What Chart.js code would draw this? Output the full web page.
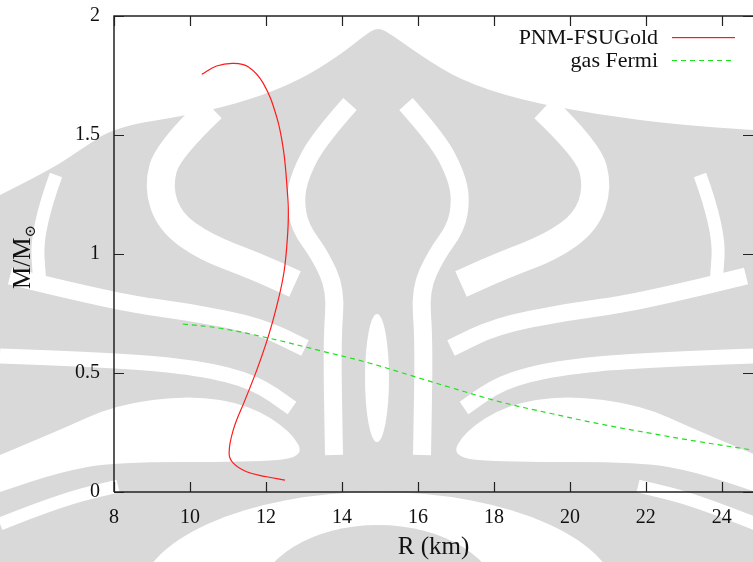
<!DOCTYPE html>
<html>
<head>
<meta charset="utf-8">
<script src="https://cdn.jsdelivr.net/npm/chart.js@4"></script>
<style>
  html, body { margin: 0; padding: 0; background: #fff; }
  #wrap { width: 753px; height: 562px; }
</style>
</head>
<body>
<div id="wrap"><canvas id="mrChart" width="753" height="562"></canvas></div>
<script>
"use strict"

// mass-radius curves (R in km, M in solar masses)
const fsuRadius = [10.31, 10.70, 11.14, 11.53, 11.93, 12.28, 12.46, 12.56, 12.59, 12.56, 12.47, 12.28, 12.06, 11.76, 11.45, 11.14, 11.03, 11.14, 11.49, 12.02, 12.50];
const fsuMass   = [1.755, 1.790, 1.801, 1.787, 1.717, 1.577, 1.437, 1.269, 1.171, 1.059, 0.919, 0.779, 0.653, 0.513, 0.387, 0.261, 0.163, 0.121, 0.085, 0.064, 0.050];

const fermiRadius = [9.81, 10.79, 12.09, 13.42, 14.74, 16.05, 16.84, 18.16, 19.47, 20.79, 22.11, 23.42, 24.82];
const fermiMass   = [0.706, 0.688, 0.646, 0.594, 0.541, 0.478, 0.440, 0.379, 0.331, 0.286, 0.247, 0.211, 0.176];

const seriesNames = ['PNM-FSUGold', 'gas Fermi'];
const seriesColors = ['#ff1a1a', '#1ee01e'];
const xTicks = [8, 10, 12, 14, 16, 18, 20, 22, 24];
const yTicks = [0, 0.5, 1, 1.5, 2];

const SERIF = '"Liberation Serif", "DejaVu Serif", serif';
const WM_GRAY = '#d9d9d9';

function toPoints(xs, ys) {
  return xs.map((x, i) => ({ x: x, y: ys[i] }));
}

// --- faint page watermark behind the plot (rough outline, mirrored about x=378)
const wmTop = [[0,195],[50,170],[80,150],[115,127],[190,115],[250,100],[300,80],[340,55],[365,35],[378,27],
               [392,35],[420,55],[460,80],[520,100],[600,115],[680,125],[753,130]];
const wmBands = [
  { w: 28, pts: [[212,108],[168,150],[158,187],[170,222],[205,247],[255,266],[295,284]] },
  { w: 18, pts: [[350,104],[318,140],[300,175],[295,200],[300,228],[320,255],[336,290],[332,340],[334,455]] },
  { w: 13, pts: [[56,175],[36,230],[40,285]] },
  { w: 17, pts: [[10,276],[115,302],[190,312],[260,326],[305,348]] },
  { w: 15, pts: [[0,356],[115,360],[200,368],[255,382],[292,408]] },
  { w: 13, pts: [[0,524],[60,500],[118,486]] }
];
const wmAreas = [
  [[0,455],[60,430],[115,405],[190,395],[250,405],[292,432],[305,458],[250,462],[115,462],[60,472],[0,492]]
];

function smoothPath(ctx, pts, closed) {
  ctx.moveTo(pts[0][0], pts[0][1]);
  for (let i = 1; i < pts.length - 1; i++) {
    const mx = (pts[i][0] + pts[i + 1][0]) / 2, my = (pts[i][1] + pts[i + 1][1]) / 2;
    ctx.quadraticCurveTo(pts[i][0], pts[i][1], mx, my);
  }
  const last = pts[pts.length - 1];
  ctx.lineTo(last[0], last[1]);
  if (closed) ctx.closePath();
}

const watermark = {
  id: 'watermark',
  beforeDraw(chart) {
    const ctx = chart.ctx;
    ctx.save();
    ctx.fillStyle = '#fff';
    ctx.fillRect(0, 0, chart.width, chart.height);
    ctx.fillStyle = WM_GRAY;
    ctx.beginPath();
    smoothPath(ctx, wmTop, false);
    ctx.lineTo(chart.width, chart.height);
    ctx.lineTo(0, chart.height);
    ctx.closePath();
    ctx.fill();
    [false, true].forEach(flip => {
      ctx.save();
      if (flip) { ctx.translate(756, 0); ctx.scale(-1, 1); }
      ctx.strokeStyle = '#fff';
      ctx.fillStyle = '#fff';
      ctx.lineCap = 'butt';
      ctx.lineJoin = 'round';
      wmBands.forEach(b => {
        ctx.lineWidth = b.w;
        ctx.beginPath();
        smoothPath(ctx, b.pts, false);
        ctx.stroke();
      });
      wmAreas.forEach(a => {
        ctx.beginPath();
        smoothPath(ctx, a, true);
        ctx.fill();
      });
      ctx.restore();
    });
    // central slot and bottom arch
    ctx.fillStyle = '#fff';
    ctx.beginPath();
    ctx.ellipse(377, 378, 12, 64, 0, 0, Math.PI * 2);
    ctx.fill();
    ctx.beginPath();
    ctx.ellipse(378, 600, 240, 108, 0, 0, Math.PI * 2);
    ctx.fill();
    ctx.fillStyle = WM_GRAY;
    ctx.beginPath();
    ctx.ellipse(378, 600, 120, 75, 0, 0, Math.PI * 2);
    ctx.fill();
    ctx.restore();
  }
};

// gnuplot style frame: inward ticks, mirrored on top and right
const frameTicks = {
  id: 'frameTicks',
  afterDraw(chart) {
    const ctx = chart.ctx;
    const a = chart.chartArea;
    const xs = chart.scales.x, ys = chart.scales.y;
    const len = 10;
    ctx.save();
    ctx.strokeStyle = '#222';
    ctx.lineWidth = 1.5;
    ctx.beginPath();
    ctx.moveTo(a.left, a.bottom);
    ctx.lineTo(a.left, a.top);
    ctx.lineTo(chart.width + 2, a.top);
    ctx.moveTo(a.left, a.bottom);
    ctx.lineTo(chart.width + 2, a.bottom);
    ctx.stroke();
    ctx.lineWidth = 1.2;
    ctx.beginPath();
    xTicks.forEach(v => {
      const px = Math.round(xs.getPixelForValue(v)) + 0.5;
      ctx.moveTo(px, a.bottom);
      ctx.lineTo(px, a.bottom - len);
      ctx.moveTo(px, a.top);
      ctx.lineTo(px, a.top + len);
    });
    yTicks.forEach(v => {
      const py = Math.round(ys.getPixelForValue(v)) + 0.5;
      ctx.moveTo(a.left, py);
      ctx.lineTo(a.left + len, py);
      ctx.moveTo(a.right, py);
      ctx.lineTo(a.right - len, py);
    });
    ctx.stroke();
    ctx.restore();
  }
};

// legend with the text right-aligned and the line sample after it
const sideLegend = {
  id: 'sideLegend',
  afterDraw(chart) {
    const ctx = chart.ctx;
    ctx.save();
    ctx.font = '22px ' + SERIF;
    ctx.textAlign = 'right';
    ctx.textBaseline = 'middle';
    seriesNames.forEach((name, i) => {
      const y = 37 + i * 23;
      ctx.fillStyle = '#111';
      ctx.fillText(name, 658, y + 1);
      if (i === 0) {
        ctx.fillStyle = seriesColors[i];
        ctx.fillRect(672, y, 63, 1.2);
      } else {
        ctx.strokeStyle = seriesColors[i];
        ctx.lineWidth = 1.2;
        ctx.setLineDash([5, 4]);
        ctx.beginPath();
        ctx.moveTo(672, y + 0.5);
        ctx.lineTo(735, y + 0.5);
        ctx.stroke();
      }
    });
    ctx.restore();
  }
};

// y title M/M_sun with a real subscript
const yTitle = {
  id: 'yTitle',
  afterDraw(chart) {
    const ctx = chart.ctx;
    ctx.save();
    ctx.translate(30, 257);
    ctx.rotate(-Math.PI / 2);
    ctx.fillStyle = '#111';
    ctx.textBaseline = 'alphabetic';
    ctx.textAlign = 'left';
    ctx.font = '25px ' + SERIF;
    const main = 'M/M';
    const wMain = ctx.measureText(main).width;
    ctx.font = '15px ' + SERIF;
    const sub = '\u2299';
    const wSub = ctx.measureText(sub).width;
    const start = -(wMain + wSub) / 2;
    ctx.font = '25px ' + SERIF;
    ctx.fillText(main, start, 0);
    ctx.font = '15px ' + SERIF;
    ctx.fillText(sub, start + wMain, 5);
    ctx.restore();
  }
};

function drawMassRadius() {
  const options = {
    type: 'scatter',
    data: {
      datasets: [
        {
          label: seriesNames[0],
          data: toPoints(fsuRadius, fsuMass),
          showLine: true,
          borderColor: seriesColors[0],
          borderWidth: 1.2,
          pointRadius: 0,
          tension: 0.4
        },
        {
          label: seriesNames[1],
          data: toPoints(fermiRadius, fermiMass),
          showLine: true,
          borderColor: seriesColors[1],
          borderWidth: 1.2,
          borderDash: [5, 4],
          pointRadius: 0,
          tension: 0.4
        }
      ]
    },
    options: {
      responsive: false,
      animation: false,
      devicePixelRatio: 1,
      layout: { padding: { top: 16, right: 0, left: 0, bottom: 0 } },
      plugins: {
        legend: { display: false },
        tooltip: { enabled: false }
      },
      scales: {
        x: {
          type: 'linear',
          min: 8,
          max: 24.82,
          afterBuildTicks: s => { s.ticks = xTicks.map(v => ({ value: v })); },
          afterFit: s => { s.height = 70; s.paddingLeft = 0; s.paddingRight = 0; },
          grid: { display: false, drawTicks: false },
          border: { display: false },
          ticks: {
            color: '#111',
            padding: 14,
            font: { family: SERIF, size: 20 },
            maxRotation: 0,
            callback: v => String(v)
          },
          title: {
            display: true,
            text: 'R (km)',
            color: '#111',
            font: { family: SERIF, size: 25 },
            padding: { top: 0, bottom: 0 }
          }
        },
        y: {
          type: 'linear',
          min: 0,
          max: 2,
          afterBuildTicks: s => { s.ticks = yTicks.map(v => ({ value: v })); },
          afterFit: s => { s.width = 114; s.paddingTop = 0; s.paddingBottom = 0; },
          grid: { display: false, drawTicks: false },
          border: { display: false },
          ticks: {
            color: '#111',
            padding: 14,
            font: { family: SERIF, size: 20 },
            callback: v => String(v)
          }
        }
      }
    },
    plugins: [watermark, frameTicks, sideLegend, yTitle]
  };
  const ctx = document.getElementById('mrChart');
  new Chart(ctx, options);
}

document.addEventListener("DOMContentLoaded", () => {
  drawMassRadius();
});
</script>
</body>
</html>
